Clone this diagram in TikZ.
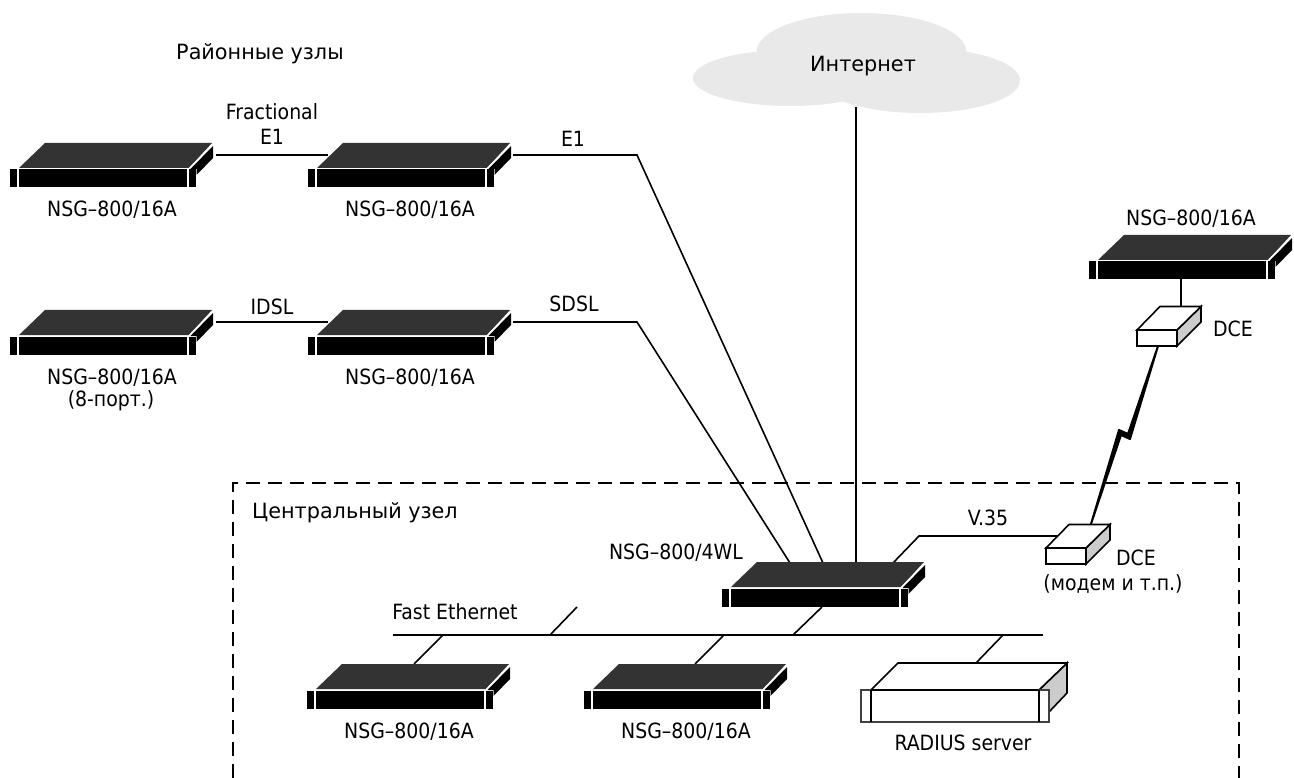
\documentclass[tikz,border=0pt]{standalone}
\usepackage{fontspec}
\setmainfont{DejaVu Sans Condensed}
\newfontfamily\widefam[FakeStretch=1.1]{DejaVu Sans Condensed}
\usetikzlibrary{calc}
\definecolor{toptone}{HTML}{333333}
\definecolor{sidegrey}{HTML}{CCCCCC}
\definecolor{cloudgrey}{HTML}{E9E9E9}
\definecolor{rimgrey}{HTML}{404040}
\tikzset{
  link/.style={draw=black,line width=1.6pt},
  lbl/.style={inner sep=0pt,anchor=base,font=\fontsize{21}{24}\selectfont,text=black,align=center},
  wlbl/.style={lbl,font=\fontsize{21}{24}\selectfont\widefam},
  boxline/.style={draw=black,line width=1.6pt,line join=miter},
  pics/router/.style={code={
    \fill[toptone] (19,168) -- (45,143) -- (212,143) -- (189,168) -- cycle;
    \fill[black] (190.5,169) -- (213,146) -- (213,158) -- (196.5,175) -- (196.5,169) -- cycle;
    \draw[white,line width=1pt] (189,168.5) -- (213,144);
    \fill[black] (10,169.5) rectangle (17,187.5);
    \fill[black] (19,169.5) rectangle (187,187.5);
    \fill[black] (189,169.5) rectangle (195.5,187.5);
  }},
  pics/dce/.style={code={
    \draw[boxline,fill=sidegrey] (1177,330) -- (1201,306.5) -- (1201,322) -- (1177,346) -- cycle;
    \draw[boxline,fill=white] (1137,330) -- (1160,306.5) -- (1201,306.5) -- (1177,330) -- cycle;
    \draw[boxline,fill=white] (1137,330) rectangle (1177,346);
  }},
}
\begin{document}
\begin{tikzpicture}[x=1pt,y=-1pt]
\useasboundingbox (0,0) rectangle (1294,778);
\fill[white] (0,0) rectangle (1294,778);
% cloud
\fill[cloudgrey] (790,78) ellipse [x radius=97,y radius=28];
\fill[cloudgrey] (920,80.5) ellipse [x radius=100,y radius=32.5];
\fill[cloudgrey] (861.5,52) ellipse [x radius=105,y radius=39];
% named points
\coordinate (inetb) at (856,107);
\coordinate (c1) at (790,563);
\coordinate (c2) at (823,563);
\coordinate (c3) at (856,563);
\coordinate (c4) at (893,563);
\coordinate (c5) at (822,607);
\coordinate (v35a) at (919,536);
\coordinate (dceb) at (1057,536);
\coordinate (r1e) at (216,155);
\coordinate (r2w) at (328,155);
\coordinate (r2e) at (513,155);
\coordinate (e1k) at (637,155);
\coordinate (r3e) at (216,322);
\coordinate (r4w) at (328,322);
\coordinate (r4e) at (513,322);
\coordinate (sdk) at (637,322);
\coordinate (r5b) at (1181,278);
\coordinate (dcet) at (1181,306.5);
\coordinate (busl) at (393,635);
\coordinate (busr) at (1043,635);
\coordinate (st0a) at (550,635);
\coordinate (st0b) at (577,607);
\coordinate (st1) at (793,635);
\coordinate (st2a) at (443,635);
\coordinate (st2b) at (414,664);
\coordinate (st3a) at (724,635);
\coordinate (st3b) at (695,664);
\coordinate (st4a) at (1003,635);
\coordinate (st4b) at (976,663);
% dashed frame
\draw[black,line width=1.4pt,dash pattern=on 14pt off 8pt] (233,778) -- (233,483) -- (1239,483) -- (1239,778);
% connectors
\draw[link] (r1e) -- (r2w);
\draw[link] (r2e) -- (e1k) -- (c2);
\draw[link] (r3e) -- (r4w);
\draw[link] (r4e) -- (sdk) -- (c1);
\draw[link] (inetb) -- (c3);
\draw[link] (c4) -- (v35a) -- (dceb);
\draw[link] (r5b) -- (dcet);
\draw[link] (busl) -- (busr);
\draw[link] (st0a) -- (st0b);
\draw[link] (c5) -- (st1);
\draw[link] (st2a) -- (st2b);
\draw[link] (st3a) -- (st3b);
\draw[link] (st4a) -- (st4b);
% devices
\pic (r1) at (0,0) {router};
\pic (r2) at (298,0) {router};
\pic (r3) at (0,167) {router};
\pic (r4) at (298,167) {router};
\pic (r5) at (1079,92) {router};
\pic (r6) at (712,419) {router};
\pic (r7) at (297,521) {router};
\pic (r8) at (574,521) {router};
\pic (dce1) at (0,0) {dce};
\pic (dce2) at (-91,218) {dce};
% lightning
\fill[black,draw=black,line width=2pt,line join=round] (1158,346) -- (1130,439) -- (1121,435) -- (1091,524) -- (1119,430) -- (1128,434) -- cycle;
% radius server
\draw[boxline,fill=sidegrey] (1039,690) -- (1067,663) -- (1067,693) -- (1049,712) -- (1049,690) -- cycle;
\draw[boxline,fill=white] (871,690) -- (898,663) -- (1067,663) -- (1039,690) -- cycle;
\draw[draw=rimgrey,line width=1.5pt,fill=white] (861,690) rectangle (1049,722);
\draw[boxline] (871,690) -- (871,722) (1039,690) -- (1039,722) (871,690) -- (1039,690);
% labels
\node[wlbl] (tdist) at (260,59.5) {Районные узлы};
\node[wlbl] (tinet) at (863,72) {Интернет};
\node[lbl] (tfrac) at (272,120) {Fractional};
\node[lbl] (te1a) at (272,145) {E1};
\node[lbl] (te1b) at (573,147) {E1};
\node[lbl] (tidsl) at (272,314) {IDSL};
\node[lbl] (tsdsl) at (574,312) {SDSL};
\node[lbl] (l1) at (112,217) {NSG–800/16A};
\node[lbl] (l2) at (410,217) {NSG–800/16A};
\node[lbl] (l3) at (112,384) {NSG–800/16A};
\node[lbl] (l3b) at (111,406) {(8-порт.)};
\node[lbl] (l4) at (410,384) {NSG–800/16A};
\node[lbl] (l5) at (1191,226) {NSG–800/16A};
\node[lbl] (tdce1) at (1233,336) {DCE};
\node[wlbl] (tcentral) at (355,518) {Центральный узел};
\node[lbl] (l6) at (676,559) {NSG–800/4WL};
\node[lbl] (tv35) at (988,525) {V.35};
\node[lbl] (tdce2) at (1136,565) {DCE};
\node[lbl] (tmodem) at (1113,590) {(модем и т.п.)};
\node[lbl] (tfe) at (455,619) {Fast Ethernet};
\node[lbl] (l7) at (409,738) {NSG–800/16A};
\node[lbl] (l8) at (686,738) {NSG–800/16A};
\node[lbl] (trad) at (963,750) {RADIUS server};
\end{tikzpicture}
\end{document}
